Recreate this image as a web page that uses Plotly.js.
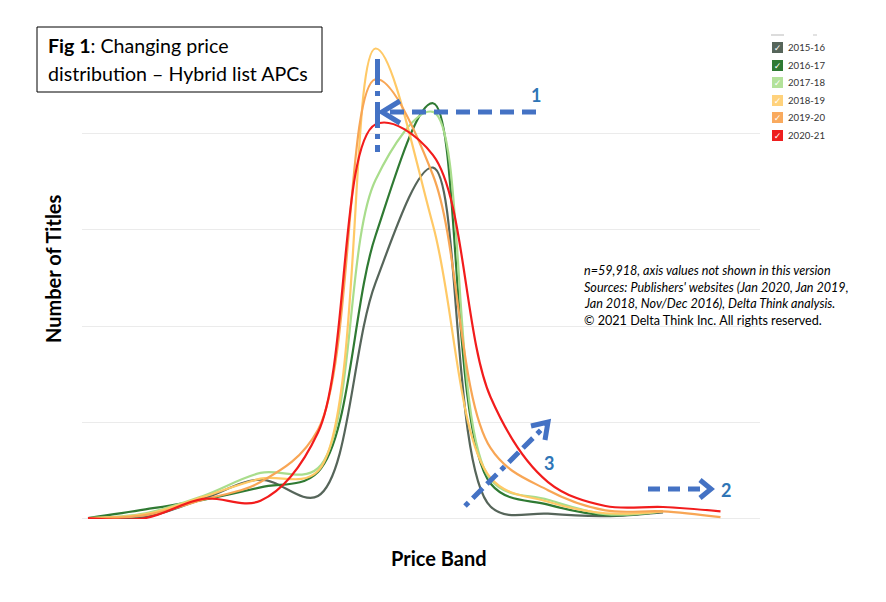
<!DOCTYPE html>
<html>
<head>
<meta charset="utf-8">
<script src="https://cdn.plot.ly/plotly-3.0.1.min.js"></script>
<style>html,body{margin:0;padding:0;background:#fff;}#chart{width:886px;height:602px;}</style>
</head>
<body>
<div id="chart"></div>
<script>
// ---- data (relative number of titles per price band; axis values not shown) ----
const priceBands = ['B1','B2','B3','B4','B5','B6','B7','B8','B9','B10','B11','B12'];
const seriesNames = ['2015-16','2016-17','2017-18','2018-19','2019-20','2020-21'];
const s2015_16 = [0, 0.01, 0.20, 0.40, 0.23, 2.45, 3.65, 0.12, 0.045, 0.02, 0.06, null];
const s2016_17 = [0, 0.09, 0.19, 0.32, 0.48, 2.94, 4.32, 0.36, 0.14, 0.03, 0.07, null];
const s2017_18 = [0, 0.05, 0.23, 0.47, 0.52, 3.52, 4.23, 0.40, 0.19, 0.04, 0.07, null];
const s2018_19 = [0, 0.04, 0.22, 0.41, 0.49, 4.89, 3.05, 0.42, 0.17, 0.05, 0.07, null];
const s2019_20 = [0, 0.03, 0.19, 0.375, 0.92, 4.57, 3.57, 0.73, 0.29, 0.08, 0.07, 0.01];
const s2020_21 = [0, 0.00, 0.20, 0.18, 0.89, 4.10, 3.78, 1.26, 0.375, 0.125, 0.115, 0.07];
const allSeries = [s2015_16, s2016_17, s2017_18, s2018_19, s2019_20, s2020_21];

// ---- styles ----
const lineColors = ['#56655A', '#2F7A33', '#A9DD8C', '#FFC966', '#F8A655', '#F21C1C'];
const boxColors  = ['#56655A', '#2F7A33', '#B3E29A', '#FFD27C', '#F9AA5E', '#EE1E1E'];

// plot area in pixels
const L = 82, R = 760, T = 37, B = 519;
const W = R - L, H = B - T;
const X = px => (px - L) / W;
const Y = py => (B - py) / H;

const traces = allSeries.map((vals, i) => ({
  type: 'scatter', mode: 'lines', x: priceBands, y: vals, name: seriesNames[i],
  line: {color: lineColors[i], width: 2.2, shape: 'spline', smoothing: 1},
  connectgaps: false, hoverinfo: 'skip', showlegend: false
}));

const blue = '#4472C4';
const numBlue = '#2E75B6';
const shapes = [
  // title box
  {type:'rect', xref:'paper', yref:'paper', x0:X(37), x1:X(322), y0:Y(27), y1:Y(92),
   line:{color:'#000', width:1}, fillcolor:'#fff', layer:'above'},
  // arrow 1 vertical dash-dot
  {type:'line', xref:'paper', yref:'paper', x0:X(377.5), x1:X(377.5), y0:Y(59), y1:Y(152),
   line:{color:blue, width:5, dash:'26px,6px,5px,6px'}},
  // arrow 1 horizontal
  {type:'line', xref:'paper', yref:'paper', x0:X(536), x1:X(384), y0:Y(112), y1:Y(112),
   line:{color:blue, width:5, dash:'14px,8px'}},
  {type:'path', xref:'paper', yref:'paper',
   path:`M ${X(400)} ${Y(101)} L ${X(382)} ${Y(112)} L ${X(400)} ${Y(123)}`,
   line:{color:blue, width:5}},
  // arrow 2
  {type:'line', xref:'paper', yref:'paper', x0:X(648), x1:X(708), y0:Y(489), y1:Y(489),
   line:{color:blue, width:5, dash:'12px,8px'}},
  {type:'path', xref:'paper', yref:'paper',
   path:`M ${X(700)} ${Y(480)} L ${X(711)} ${Y(489)} L ${X(700)} ${Y(498)}`,
   line:{color:blue, width:5}},
  // arrow 3 diagonal
  {type:'line', xref:'paper', yref:'paper', x0:X(465), x1:X(547), y0:Y(506), y1:Y(424),
   line:{color:blue, width:5, dash:'5px,6px,14px,6px,14px,6px'}},
  {type:'path', xref:'paper', yref:'paper',
   path:`M ${X(531)} ${Y(426)} L ${X(548)} ${Y(422)} L ${X(545)} ${Y(440)}`,
   line:{color:blue, width:5}},
  // note background
  {type:'rect', xref:'paper', yref:'paper', x0:X(578), x1:X(860), y0:Y(262), y1:Y(330),
   line:{width:0}, fillcolor:'#fff', layer:'below'},
  // faint cut-off legend item on top
  {type:'line', xref:'paper', yref:'paper', x0:X(771), x1:X(784), y0:Y(35), y1:Y(35),
   line:{color:'#D0D0D0', width:1.5}},
  {type:'line', xref:'paper', yref:'paper', x0:X(813), x1:X(817), y0:Y(35), y1:Y(35),
   line:{color:'#D8D8D8', width:1.5}}
];

const C = {xanchor:'center', yanchor:'middle', showarrow:false, xref:'paper', yref:'paper'};
const annotations = [
  Object.assign({}, C, {x:X(46), y:Y(45), xanchor:'left', align:'left',
   text:'<b>Fig 1</b>: Changing price', font:{family:'Lato, sans-serif', size:19.6, color:'#000'}}),
  Object.assign({}, C, {x:X(46), y:Y(74), xanchor:'left', align:'left',
   text:'distribution – Hybrid list APCs', font:{family:'Lato, sans-serif', size:19.6, color:'#000'}}),
  Object.assign({}, C, {x:X(536), y:Y(95), text:'<b>1</b>',
   font:{family:'Lato, sans-serif', size:18, color:numBlue}}),
  Object.assign({}, C, {x:X(726), y:Y(490), text:'<b>2</b>',
   font:{family:'Lato, sans-serif', size:18, color:numBlue}}),
  Object.assign({}, C, {x:X(549), y:Y(463), text:'<b>3</b>',
   font:{family:'Lato, sans-serif', size:18, color:numBlue}}),
  // axis titles
  Object.assign({}, C, {x:X(439), y:Y(558), text:'<b>Price Band</b>',
   font:{family:'Lato, sans-serif', size:20, color:'#000'}}),
  Object.assign({}, C, {x:X(53), y:Y(269), text:'<b>Number of Titles</b>', textangle:-90,
   font:{family:'Lato, sans-serif', size:20, color:'#000'}})
];

const noteLines = [
  '<i>n=59,918, axis values not shown in this version</i>',
  '<i>Sources: Publishers\' websites (Jan 2020, Jan 2019,</i>',
  '<i>Jan 2018, Nov/Dec 2016), Delta Think analysis.</i>',
  '© 2021 Delta Think Inc. All rights reserved.'
];
const noteY = [270, 287, 303.5, 320];
noteLines.forEach((t, i) => annotations.push(Object.assign({}, C, {
  x:X(582), y:Y(noteY[i]), xanchor:'left', text:t,
  font:{family:'Lato, sans-serif', size:12.6, color:'#000'}
})));

// legend (checkbox style)
const legY = [47, 65, 82.5, 100.5, 118, 135];
seriesNames.forEach((nm, i) => {
  annotations.push(Object.assign({}, C, {x:X(777), y:Y(legY[i]), text:'✓',
    width:11, height:11, borderpad:0, borderwidth:0, bgcolor:boxColors[i],
    font:{family:'DejaVu Sans, sans-serif', size:9, color:'#fff'}}));
  annotations.push(Object.assign({}, C, {x:X(786), y:Y(legY[i]), xanchor:'left', text:nm,
    font:{family:'Lato, sans-serif', size:9.6, color:'#333'}}));
});

const layout = {
  width: 886, height: 602,
  margin: {l: L, r: 886 - R, t: T, b: 602 - B, pad: 0},
  paper_bgcolor: '#fff', plot_bgcolor: '#fff',
  showlegend: false,
  xaxis: {type:'category', range:[(L-88)/57.5, (R-88)/57.5], showgrid:false, zeroline:false,
    showticklabels:false, ticks:'', showline:false},
  yaxis: {range:[-0.01, 5.01], dtick:1, tick0:0, showgrid:true, gridcolor:'#EBEBEB', gridwidth:1,
    zeroline:true, zerolinecolor:'#EBEBEB', zerolinewidth:1,
    showticklabels:false, ticks:'', showline:false},
  shapes: shapes,
  annotations: annotations
};

Plotly.newPlot('chart', traces, layout, {staticPlot:true, displayModeBar:false});
</script>
</body>
</html>
